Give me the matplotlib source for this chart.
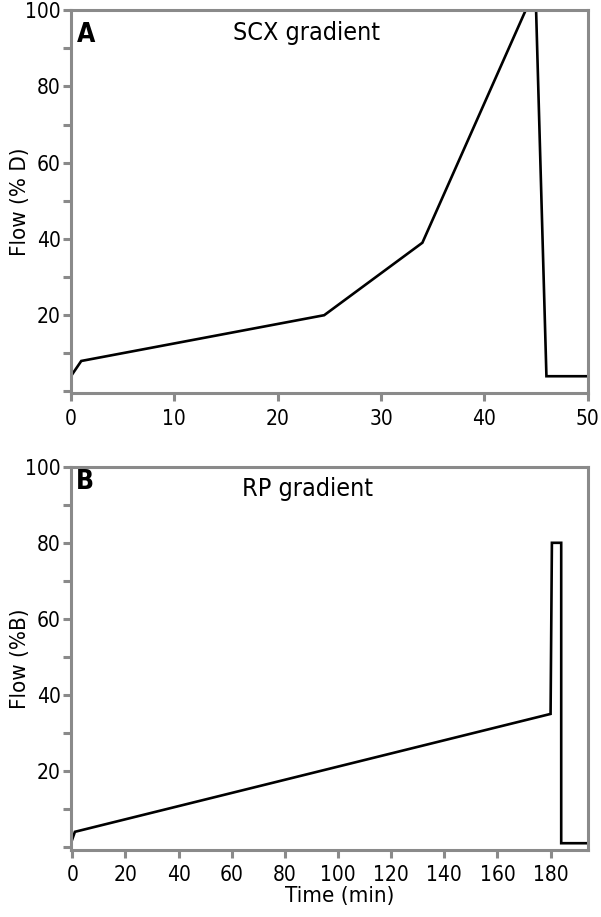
import matplotlib
matplotlib.use("Agg")
import matplotlib.pyplot as plt
from matplotlib.ticker import MultipleLocator

# SCX gradient (panel A)
scx_time = [0, 1, 24.5, 34, 44, 45, 46, 50]
scx_flow = [4, 8, 20, 39, 100, 100, 4, 4]

# RP gradient (panel B)
rp_time = [0, 1, 180, 180.5, 184, 184, 194]
rp_flow = [2, 4, 35, 80, 80, 1, 1]

plt.rcParams['font.family'] = ['DejaVu Sans']
plt.rcParams['font.stretch'] = 'condensed'
grey = '#8a8a8a'

fig = plt.figure(figsize=(6.01, 9.17), dpi=100)
ax1 = fig.add_axes([0.118, 0.571, 0.860, 0.418])
ax2 = fig.add_axes([0.118, 0.073, 0.860, 0.418])


def style(ax):
    for s in ax.spines.values():
        s.set_color(grey)
        s.set_linewidth(2.2)
    ax.tick_params(which='both', direction='out', color=grey, width=2.2, length=6, labelsize=15)
    ax.tick_params(axis='y', which='both', pad=1.5)
    ax.tick_params(axis='x', which='both', pad=5)
    ax.yaxis.set_major_locator(MultipleLocator(20))
    ax.yaxis.set_minor_locator(MultipleLocator(10))
    ax.set_yticks([20, 40, 60, 80, 100])


ax1.plot(scx_time, scx_flow, color='black', lw=1.9, solid_joinstyle='miter')
ax1.set_xlim(0, 50)
ax1.set_ylim(-0.5, 100)
ax1.xaxis.set_major_locator(MultipleLocator(10))
style(ax1)
ax1.set_ylabel('Flow (% D)', fontsize=16)
ax1.yaxis.set_label_coords(-0.08, 0.5)
ax1.text(0.012, 0.97, 'A', transform=ax1.transAxes, fontsize=19, fontweight='bold', va='top', ha='left')
ax1.text(0.455, 0.972, 'SCX gradient', transform=ax1.transAxes, fontsize=18, va='top', ha='center')

ax2.plot(rp_time, rp_flow, color='black', lw=1.9, solid_joinstyle='miter')
ax2.set_xlim(-0.5, 194)
ax2.set_ylim(-0.8, 100)
ax2.xaxis.set_major_locator(MultipleLocator(20))
style(ax2)
ax2.set_ylabel('Flow (%B)', fontsize=16)
ax2.yaxis.set_label_coords(-0.08, 0.5)
ax2.set_xlabel('Time (min)', fontsize=16)
ax2.xaxis.set_label_coords(0.52, -0.095)
ax2.text(0.01, 0.995, 'B', transform=ax2.transAxes, fontsize=19, fontweight='bold', va='top', ha='left')
ax2.text(0.457, 0.972, 'RP gradient', transform=ax2.transAxes, fontsize=18, va='top', ha='center')

fig.savefig('out.png', dpi=100)
